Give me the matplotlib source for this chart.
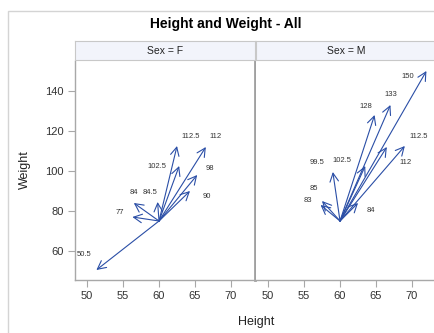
import matplotlib.pyplot as plt
from matplotlib.patches import Rectangle

plt.rcParams['font.family'] = ['Liberation Sans', 'DejaVu Sans']

# SASHELP.CLASS style data, split by sex
f_height = [56.5, 65.3, 62.8, 59.8, 62.5, 51.3, 64.3, 56.3, 66.5]
f_weight = [84.0, 98.0, 102.5, 84.5, 112.5, 50.5, 90.0, 77.0, 112.0]
m_height = [69.0, 63.5, 57.3, 62.5, 59.0, 72.0, 64.8, 67.0, 57.5, 66.5]
m_weight = [112.5, 102.5, 83.0, 84.0, 99.5, 150.0, 128.0, 133.0, 85.0, 112.0]
origin = (60, 75)

# label offsets from arrow tip (pixels), to mimic SAS label placement
f_offsets = [(0, 10), (13, 6), (-22, 0), (-8, 9), (14, 9), (-12, 16), (17, -5), (-13, 5), (10, 10)]
m_offsets = [(14, 9), (-23, 5), (-13, 5), (13, -7), (-16, 9), (-19, -5), (-9, 9), (0, 11), (-8, 12), (19, -16)]

W, H = 434, 333
fig = plt.figure(figsize=(W / 100, H / 100), dpi=100)

def box(x0, y0, x1, y1):
    return [x0 / W, 1 - y1 / H, (x1 - x0) / W, (y1 - y0) / H]

# outer frame of the graph
fig.patches.append(Rectangle((8 / W, -0.1), 1.2, 1 - 11 / H + 0.1, transform=fig.transFigure,
                             fill=False, edgecolor='#d4d4d4', lw=1))

grey = '#a8a8a8'
arrow_col = '#2a4ea6'

panels = [('Sex = F', f_height, f_weight, f_offsets, 75, 255),
          ('Sex = M', m_height, m_weight, m_offsets, 256, 436)]

for i, (name, hx, wy, offs, x0, x1) in enumerate(panels):
    ax = fig.add_axes(box(x0, 61, x1, 280))
    ax.set_xlim(48.33, 73.33)
    ax.set_ylim(45.5, 155)
    for h, w, (dx, dy) in zip(hx, wy, offs):
        ax.annotate('', xy=(h, w), xytext=origin,
                    arrowprops=dict(arrowstyle='->,head_length=0.55,head_width=0.28',
                                    color=arrow_col, lw=0.8, shrinkA=0, shrinkB=0,
                                    mutation_scale=11))
        lab = ('%g' % w)
        ax.annotate(lab, xy=(h, w), xytext=(dx, dy), textcoords='offset pixels',
                    ha='center', va='center', fontsize=5.5, color='#333333')
    for s in ax.spines.values():
        s.set_color(grey)
        s.set_linewidth(1)
    ax.spines['top'].set_visible(False)
    ax.set_xticks([50, 55, 60, 65, 70])
    ax.tick_params(axis='x', length=5, color=grey, labelsize=8, labelcolor='#333333', pad=3)
    if i == 0:
        ax.set_yticks([60, 80, 100, 120, 140])
        ax.tick_params(axis='y', length=5, color=grey, labelsize=8, labelcolor='#333333', pad=3)
        ax.spines['right'].set_linewidth(2)
        ax.spines['right'].set_color('#a0a0a0')
    else:
        ax.set_yticks([])
        ax.spines['left'].set_visible(False)

    hd = fig.add_axes(box(x0, 41, x1, 60))
    hd.set_xticks([])
    hd.set_yticks([])
    hd.set_facecolor('#f2f4fb')
    for s in hd.spines.values():
        s.set_color('#c8c8c8')
    hd.text(0.5, 0.5, name, ha='center', va='center', fontsize=7.5, color='#222222',
            transform=hd.transAxes)

fig.text(226 / W, 1 - 24 / H, 'Height and Weight - All', ha='center', va='center',
         fontsize=10, fontweight='bold')
fig.text(256 / W, 1 - 322 / H, 'Height', ha='center', va='center', fontsize=9, color='#222222')
fig.text(25 / W, 1 - 170 / H, 'Weight', ha='center', va='center', fontsize=9, color='#222222',
         rotation=90)

fig.savefig('out.png', dpi=100)
